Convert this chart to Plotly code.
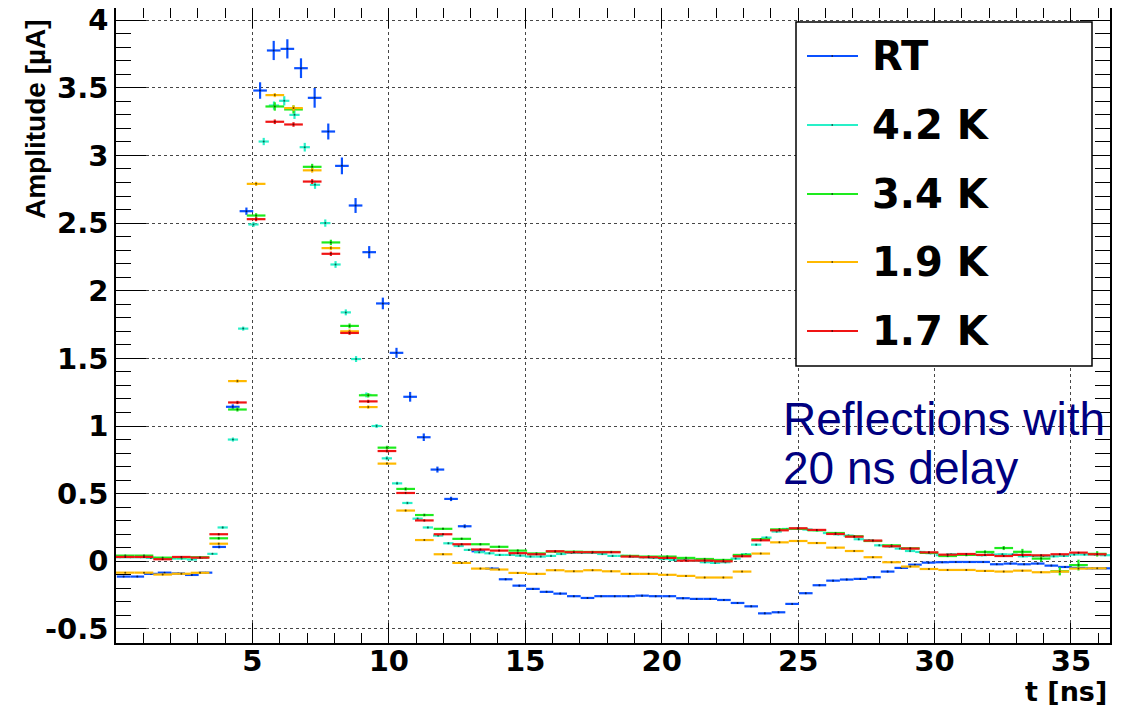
import plotly.graph_objects as go

# ---------------- data ----------------
SERIES_NAMES = ["RT", "4.2 K", "3.4 K", "1.9 K", "1.7 K"]
SERIES_COLORS = ["rgb(10,80,255)", "rgb(40,240,200)", "rgb(30,235,30)",
                 "rgb(255,185,0)", "rgb(240,20,20)"]

# sampling grids (first bin centre, bin width) in ns
RT_T0, RT_DT = 0.28, 0.5
K42_T0, K42_DT = 0.15, 0.376
LOW_T0, LOW_DT = 0.34, 0.685

RT_VAL = [
    -0.113, -0.113, -0.093, -0.084, -0.09, -0.101, -0.084, 0.106, 1.142,
    2.588, 3.48, 3.776, 3.788, 3.645, 3.426, 3.177, 2.923, 2.63,
    2.285, 1.906, 1.541, 1.216, 0.917, 0.678, 0.461, 0.259,
    0.074, -0.054, -0.133, -0.180, -0.204, -0.226, -0.239, -0.258, -0.271,
    -0.258, -0.258, -0.258, -0.254, -0.258, -0.258, -0.273, -0.278, -0.278, -0.286, -0.308, -0.333,
    -0.385, -0.377, -0.315, -0.236, -0.177, -0.143, -0.135, -0.13, -0.118, -0.076, -0.049, -0.025, -0.01,
    -0.007, -0.005, -0.005, -0.005, -0.022, -0.017, -0.022, -0.017, -0.032, -0.042, -0.049, -0.052, -0.052,
]
RT_ERR = [
    0.005, 0.005, 0.005, 0.005, 0.005, 0.005, 0.005, 0.01, 0.018,
    0.027, 0.061, 0.071, 0.071, 0.073, 0.073, 0.059, 0.062, 0.055,
    0.045, 0.043, 0.037, 0.036, 0.028, 0.022, 0.016, 0.014,
    0.008, 0.008, 0.007, 0.007, 0.007, 0.007, 0.007, 0.007, 0.007,
    0.007, 0.007, 0.007, 0.007, 0.007, 0.007, 0.007, 0.007, 0.007, 0.007, 0.007, 0.007,
    0.007, 0.007, 0.007, 0.007, 0.007, 0.007, 0.007, 0.007, 0.007, 0.007, 0.006, 0.006, 0.006,
    0.006, 0.006, 0.006, 0.006, 0.006, 0.006, 0.006, 0.006, 0.006, 0.006, 0.006, 0.006, 0.006,
]

K42_VAL = [
    0.03, 0.03, 0.03, 0.025, 0.02, 0.02, 0.02, 0.013, 0.025, 0.055,
    0.25, 0.90, 1.72, 2.49, 3.103, 3.369, 3.404, 3.30, 3.061, 2.783,
    2.50, 2.194, 1.84, 1.495, 1.23, 1.0, 0.761, 0.576, 0.431, 0.315,
    0.25, 0.19, 0.133, 0.113, 0.084, 0.067, 0.059, 0.047, 0.047, 0.042,
    0.035, 0.035, 0.04, 0.054, 0.062, 0.062, 0.062, 0.054, 0.04, 0.04,
    0.035, 0.03, 0.025, 0.017, 0.01, 0.01, 0.005, -0.007, -0.012, -0.007,
    0.02, 0.052, 0.123, 0.175, 0.22, 0.239, 0.24, 0.235, 0.23, 0.209,
    0.2, 0.19, 0.163, 0.155, 0.118, 0.11, 0.094, 0.076, 0.069, 0.06,
    0.045, 0.052, 0.05, 0.05, 0.045, 0.05, 0.052, 0.05, 0.037, 0.04,
    0.04, 0.037, 0.04, 0.05, 0.05, 0.05, 0.045,
]
K42_ERR = [
    0.006, 0.006, 0.006, 0.006, 0.006, 0.006, 0.006, 0.006, 0.006, 0.006,
    0.01, 0.015, 0.015, 0.018, 0.027, 0.03, 0.034, 0.03, 0.032, 0.03,
    0.027, 0.025, 0.022, 0.022, 0.018, 0.015, 0.015, 0.012, 0.01, 0.01,
    0.008, 0.008, 0.008, 0.008, 0.008, 0.008, 0.008, 0.008, 0.008, 0.008,
    0.008, 0.008, 0.008, 0.008, 0.008, 0.008, 0.008, 0.008, 0.008, 0.008,
    0.008, 0.008, 0.008, 0.008, 0.008, 0.008, 0.008, 0.008, 0.008, 0.008,
    0.008, 0.008, 0.008, 0.008, 0.008, 0.008, 0.008, 0.008, 0.008, 0.008,
    0.008, 0.008, 0.008, 0.008, 0.008, 0.008, 0.008, 0.008, 0.008, 0.008,
    0.008, 0.008, 0.008, 0.008, 0.008, 0.008, 0.008, 0.008, 0.008, 0.008,
    0.008, 0.008, 0.008, 0.008, 0.008, 0.008, 0.008,
]

K34_VAL = [
    0.042, 0.042, 0.027, 0.03, 0.03, 0.17, 1.122, 2.556, 3.362, 3.34,
    2.916, 2.357, 1.74, 1.227, 0.84, 0.535, 0.342, 0.24, 0.166, 0.126,
    0.107, 0.079, 0.058, 0.072, 0.071, 0.069, 0.069, 0.04, 0.035, 0.035,
    0.025, 0.017, 0.01, 0.047, 0.163, 0.236, 0.24, 0.229, 0.209, 0.185,
    0.15, 0.118, 0.096, 0.062, 0.039, 0.047, 0.069, 0.098, 0.07, 0.02,
    -0.074, -0.028, 0.055,
]
K34_ERR = [
    0.006, 0.006, 0.006, 0.006, 0.006, 0.01, 0.015, 0.017, 0.031, 0.03,
    0.022, 0.02, 0.018, 0.016, 0.014, 0.012, 0.01, 0.008, 0.008, 0.008,
    0.008, 0.008, 0.008, 0.008, 0.008, 0.008, 0.008, 0.008, 0.008, 0.008,
    0.008, 0.008, 0.008, 0.008, 0.008, 0.008, 0.008, 0.008, 0.008, 0.008,
    0.008, 0.008, 0.008, 0.008, 0.008, 0.01, 0.012, 0.015, 0.022, 0.022,
    0.03, 0.04, 0.02,
]

K19_VAL = [
    -0.084, -0.084, -0.098, -0.092, -0.085, 0.13, 1.332, 2.79, 3.446, 3.35,
    2.89, 2.315, 1.70, 1.14, 0.722, 0.375, 0.157, 0.052, -0.012, -0.054,
    -0.061, -0.086, -0.093, -0.066, -0.074, -0.066, -0.074, -0.093, -0.093, -0.1,
    -0.108, -0.12, -0.12, -0.076, 0.057, 0.14, 0.15, 0.135, 0.101, 0.076,
    0.03, -0.007, -0.039, -0.057, -0.064, -0.064, -0.071, -0.076, -0.069, -0.081,
    -0.076, -0.054, -0.052,
]
K19_ERR = [
    0.005, 0.005, 0.005, 0.005, 0.005, 0.008, 0.012, 0.015, 0.015, 0.02,
    0.017, 0.015, 0.014, 0.012, 0.01, 0.008, 0.007, 0.006, 0.006, 0.006,
    0.006, 0.006, 0.006, 0.006, 0.006, 0.006, 0.006, 0.006, 0.006, 0.006,
    0.006, 0.006, 0.006, 0.006, 0.006, 0.006, 0.006, 0.006, 0.006, 0.006,
    0.006, 0.006, 0.006, 0.006, 0.006, 0.006, 0.006, 0.006, 0.006, 0.006,
    0.006, 0.006, 0.006,
]

K17_VAL = [
    0.032, 0.032, 0.015, 0.032, 0.027, 0.20, 1.174, 2.529, 3.249, 3.229,
    2.807, 2.273, 1.688, 1.182, 0.815, 0.505, 0.302, 0.20, 0.126, 0.087,
    0.079, 0.06, 0.052, 0.074, 0.067, 0.067, 0.067, 0.035, 0.03, 0.025,
    0.005, 0.005, 0.0, 0.037, 0.155, 0.229, 0.244, 0.232, 0.202, 0.182,
    0.153, 0.111, 0.094, 0.066, 0.049, 0.054, 0.047, 0.039, 0.047, 0.044,
    0.052, 0.064, 0.052,
]
K17_ERR = [
    0.005, 0.005, 0.005, 0.005, 0.005, 0.008, 0.012, 0.015, 0.017, 0.017,
    0.018, 0.016, 0.014, 0.012, 0.01, 0.008, 0.007, 0.006, 0.006, 0.006,
    0.006, 0.006, 0.006, 0.006, 0.006, 0.006, 0.006, 0.006, 0.006, 0.006,
    0.006, 0.006, 0.006, 0.006, 0.006, 0.006, 0.006, 0.006, 0.006, 0.006,
    0.006, 0.006, 0.006, 0.006, 0.006, 0.006, 0.006, 0.006, 0.006, 0.006,
    0.006, 0.006, 0.006,
]

X_TICKS = [5, 10, 15, 20, 25, 30, 35]
Y_TICKS = [-0.5, 0, 0.5, 1, 1.5, 2, 2.5, 3, 3.5, 4]
Y_TICK_TEXT = ["-0.5", "0", "0.5", "1", "1.5", "2", "2.5", "3", "3.5", "4"]
X_RANGE = [0, 36.43]
Y_RANGE = [-0.604, 4.09]

# ---------------- figure ----------------
# the page has an 8 px body margin; the figure is sized to fit the window
OFF = 8
W, H = 1122, 701
ML, MR, MT, MB = 108, 20, 0, 66
PW, PH = W - ML - MR, H - MT - MB


def px_x(page_px):
    return (page_px - OFF - ML) / PW


def px_y(page_py):
    return (H - MB - (page_py - OFF)) / PH


series = [
    (RT_T0, RT_DT, RT_VAL, RT_ERR),
    (K42_T0, K42_DT, K42_VAL, K42_ERR),
    (LOW_T0, LOW_DT, K34_VAL, K34_ERR),
    (LOW_T0, LOW_DT, K19_VAL, K19_ERR),
    (LOW_T0, LOW_DT, K17_VAL, K17_ERR),
]

fig = go.Figure()
for name, color, (t0, dt, vals, errs) in zip(SERIES_NAMES, SERIES_COLORS, series):
    xs = [t0 + dt * i for i in range(len(vals))]
    fig.add_trace(go.Scatter(
        x=xs, y=vals, mode="markers", name=name,
        marker=dict(size=2, color="rgba(0,0,0,0.6)"),
        error_x=dict(type="constant", value=dt / 2, color=color, thickness=2.2, width=0),
        error_y=dict(type="data", array=errs, color=color, thickness=2.2, width=0),
        cliponaxis=True,
    ))

tickfont = dict(family="DejaVu Sans", size=29, color="black", weight="bold")

fig.update_layout(
    width=W, height=H,
    margin=dict(l=ML, r=MR, t=MT, b=MB, autoexpand=False),
    paper_bgcolor="white", plot_bgcolor="white",
    showlegend=False,
    xaxis=dict(
        range=X_RANGE, tickvals=X_TICKS, ticktext=[str(v) for v in X_TICKS],
        ticks="inside", ticklen=20, tickwidth=1, tickcolor="black",
        minor=dict(dtick=1, tick0=0, ticks="inside", ticklen=10, tickcolor="black", showgrid=False),
        showgrid=True, gridcolor="rgb(70,70,70)", griddash="dot", gridwidth=1,
        showline=True, linecolor="black", linewidth=1.5, mirror="allticks",
        zeroline=False, tickfont=tickfont, automargin=False, ticklabelstandoff=-9,
        ticklabeloverflow="allow",
    ),
    yaxis=dict(
        range=Y_RANGE, tickvals=Y_TICKS, ticktext=Y_TICK_TEXT,
        ticks="inside", ticklen=30, tickwidth=1, tickcolor="black",
        minor=dict(dtick=0.1, tick0=0, ticks="inside", ticklen=15, tickcolor="black", showgrid=False),
        showgrid=True, gridcolor="rgb(70,70,70)", griddash="dot", gridwidth=1,
        showline=True, linecolor="black", linewidth=1.5, mirror="allticks",
        zeroline=False, tickfont=tickfont, automargin=False, ticklabeloverflow="allow",
    ),
)

# axis titles
fig.add_annotation(
    xref="paper", yref="paper", x=px_x(35), y=px_y(17), xanchor="center", yanchor="top",
    text="Amplitude [µA]", textangle=-90, showarrow=False,
    font=dict(family="Liberation Sans", size=28, color="black", weight="bold"),
)
fig.add_annotation(
    xref="paper", yref="paper", x=px_x(1109), y=px_y(709), xanchor="right", yanchor="bottom",
    text="t [ns]", showarrow=False,
    font=dict(family="DejaVu Sans", size=27, color="black", weight="bold"),
)

# legend box (drawn manually, ROOT style)
fig.add_shape(type="rect", xref="paper", yref="paper",
              x0=px_x(796), x1=px_x(1092), y0=px_y(366), y1=px_y(22),
              line=dict(color="black", width=1.5), fillcolor="white", layer="above")
LEG_Y = [56, 125, 194, 262, 331]
for name, color, ly in zip(SERIES_NAMES, SERIES_COLORS, LEG_Y):
    fig.add_shape(type="line", xref="paper", yref="paper",
                  x0=px_x(807), x1=px_x(858), y0=px_y(ly), y1=px_y(ly),
                  line=dict(color=color, width=2), layer="above")
    fig.add_shape(type="rect", xref="paper", yref="paper",
                  x0=px_x(831.5), x1=px_x(833), y0=px_y(ly + 0.8), y1=px_y(ly - 0.8),
                  line=dict(width=0), fillcolor="rgba(0,0,0,0.7)", layer="above")
    fig.add_annotation(
        xref="paper", yref="paper", x=px_x(870), y=px_y(ly), xanchor="left", yanchor="middle",
        text=name, showarrow=False,
        font=dict(family="DejaVu Sans", size=40, color="black", weight="bold"),
    )

# note text
NOTE_LINES = ["Reflections with", "20 ns delay"]
for line, ly in zip(NOTE_LINES, [419, 468]):
    fig.add_annotation(
        xref="paper", yref="paper", x=px_x(781), y=px_y(ly), xanchor="left", yanchor="middle",
        text=line, showarrow=False,
        font=dict(family="Liberation Sans", size=46, color="#000080"),
    )

fig.write_html("out.html")
